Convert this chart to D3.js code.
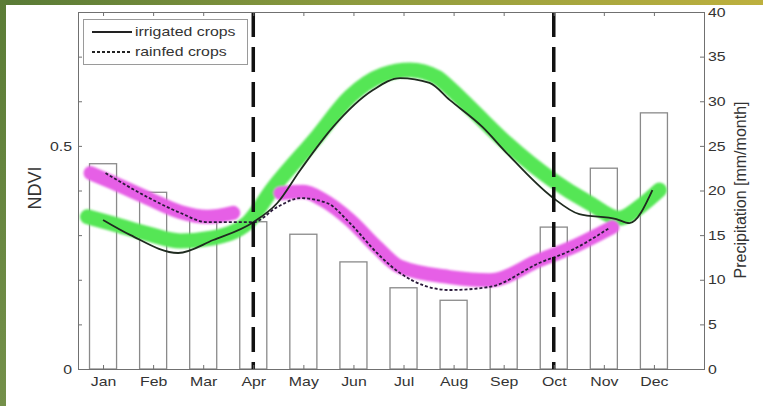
<!DOCTYPE html>
<html>
<head>
<meta charset="utf-8">
<script src="https://cdn.jsdelivr.net/npm/d3@7"></script>
<style>
  body { margin: 0; background: #fff; }
  svg { display: block; }
</style>
</head>
<body>
<svg id="chart" width="763" height="406"></svg>
<script>
// ---- data ----
const months = ["Jan", "Feb", "Mar", "Apr", "May", "Jun", "Jul", "Aug", "Sep", "Oct", "Nov", "Dec"];
const monthPos = [1, 2, 3, 4, 5, 6, 7, 8, 9, 10, 11, 12];
// monthly precipitation [mm/month]
const precip = [23, 19.8, 17.1, 16.5, 15.1, 12, 9.1, 7.7, 10.2, 15.9, 22.5, 28.7];

// irrigated crops NDVI profile (time in fractional months)
const irrigatedT = [1.0, 1.55, 2.5, 3.2, 4.0, 4.48, 4.94, 5.59, 6.39, 6.93, 7.52, 7.92, 8.58, 9.06, 9.97, 10.51, 11.25, 11.51, 11.97];
const irrigatedNdvi = [0.334, 0.300, 0.260, 0.289, 0.329, 0.372, 0.446, 0.542, 0.625, 0.652, 0.641, 0.603, 0.542, 0.484, 0.385, 0.347, 0.336, 0.327, 0.401];

// rainfed crops NDVI profile
const rainfedT = [1.05, 1.89, 2.54, 3.08, 3.54, 4.0, 4.48, 4.94, 5.47, 5.93, 6.47, 6.93, 7.92, 8.72, 9.72, 10.37, 11.11];
const rainfedNdvi = [0.439, 0.385, 0.350, 0.329, 0.329, 0.329, 0.363, 0.383, 0.372, 0.327, 0.260, 0.215, 0.177, 0.184, 0.238, 0.267, 0.316];

// reference envelope for irrigated crops (green band)
const irrigatedBandT = [0.69, 1.21, 1.89, 2.54, 3.20, 3.88, 4.40, 5.27, 5.93, 6.59, 7.13, 7.66, 7.92, 8.38, 9.06, 9.97, 10.71, 11.31, 11.71, 12.11];
const irrigatedBandNdvi = [0.341, 0.325, 0.303, 0.287, 0.294, 0.327, 0.406, 0.520, 0.610, 0.659, 0.670, 0.654, 0.630, 0.580, 0.506, 0.424, 0.372, 0.338, 0.363, 0.401];

// reference envelope for rainfed crops (magenta band), two seasons
const rainfedBandT1 = [0.75, 1.21, 1.89, 2.54, 3.08, 3.60];
const rainfedBandNdvi1 = [0.439, 0.417, 0.383, 0.352, 0.341, 0.350];
const rainfedBandT2 = [4.54, 5.0, 5.39, 5.93, 6.47, 6.93, 7.92, 8.72, 9.72, 10.37, 11.17];
const rainfedBandNdvi2 = [0.394, 0.397, 0.379, 0.334, 0.273, 0.229, 0.206, 0.199, 0.244, 0.273, 0.318];

// season boundaries (months)
const seasonMarks = [4, 10];

// axis ticks
const ndviTicks = [0, 0.1, 0.2, 0.3, 0.4, 0.5, 0.6, 0.7, 0.8];
const ndviTickLabels = ["0", "", "", "", "", "0.5", "", "", ""];
const precipTicks = [0, 5, 10, 15, 20, 25, 30, 35, 40];

const legendLabels = ["irrigated crops", "rainfed crops"];

// ---- layout ----
const W = 763, H = 406;
const plot = { left: 78, right: 704, top: 12, bottom: 369 };
const FONT = "'Liberation Sans', Arial, Helvetica, sans-serif";
const SX = 1.22;           // horizontal stretch of the label glyphs
const AXIS_COLOR = "#707070";
const TEXT_COLOR = "#333";

const svg = d3.select("#chart");

const x = d3.scaleLinear().domain([0.5, 13]).range([plot.left, plot.right]);
const yN = d3.scaleLinear().domain([0, 0.8]).range([plot.bottom, plot.top]);
const yP = d3.scaleLinear().domain([0, 40]).range([plot.bottom, plot.top]);

const defs = svg.append("defs");
const topGrad = defs.append("linearGradient").attr("id", "topGrad");
topGrad.append("stop").attr("offset", "0%").attr("stop-color", "#587a36");
topGrad.append("stop").attr("offset", "45%").attr("stop-color", "#8c9a3e");
topGrad.append("stop").attr("offset", "100%").attr("stop-color", "#bdb03e");
const leftGrad = defs.append("linearGradient").attr("id", "leftGrad")
  .attr("x1", 0).attr("x2", 0).attr("y1", 0).attr("y2", 1);
leftGrad.append("stop").attr("offset", "0%").attr("stop-color", "#5b7c36");
leftGrad.append("stop").attr("offset", "100%").attr("stop-color", "#74904a");
defs.append("filter").attr("id", "soft")
  .attr("x", "-5%").attr("y", "-5%").attr("width", "110%").attr("height", "110%")
  .append("feGaussianBlur").attr("stdDeviation", 0.9);

// page background with slide border
svg.append("rect").attr("width", W).attr("height", H).attr("fill", "#fff");
svg.append("rect").attr("x", 0).attr("y", 0).attr("width", W).attr("height", 5).attr("fill", "url(#topGrad)");
svg.append("rect").attr("x", 0).attr("y", 0).attr("width", 6).attr("height", H).attr("fill", "url(#leftGrad)");

// ---- precipitation bars ----
const barHalf = 0.27;
svg.append("g").selectAll("rect")
  .data(precip)
  .join("rect")
  .attr("x", (d, i) => x(monthPos[i] - barHalf))
  .attr("width", (d, i) => x(monthPos[i] + barHalf) - x(monthPos[i] - barHalf))
  .attr("y", d => yP(d))
  .attr("height", d => yP(0) - yP(d))
  .attr("fill", "#fff")
  .attr("stroke", "#8a8a8a")
  .attr("stroke-width", 1.3);

// ---- reference bands ----
const pts = (t, v) => t.map((ti, i) => [ti, v[i]]);
const line = d3.line().x(d => x(d[0])).y(d => yN(d[1])).curve(d3.curveMonotoneX);

const bands = svg.append("g").attr("filter", "url(#soft)");
bands.append("path")
  .attr("d", line(pts(irrigatedBandT, irrigatedBandNdvi)))
  .attr("fill", "none").attr("stroke", "#55e655").attr("stroke-width", 15)
  .attr("stroke-linecap", "round").attr("stroke-linejoin", "round");
[[rainfedBandT1, rainfedBandNdvi1], [rainfedBandT2, rainfedBandNdvi2]].forEach(([t, v]) => {
  bands.append("path")
    .attr("d", line(pts(t, v)))
    .attr("fill", "none").attr("stroke", "#e65ee6").attr("stroke-width", 14)
    .attr("stroke-linecap", "round").attr("stroke-linejoin", "round");
});

// ---- NDVI profiles ----
svg.append("path")
  .attr("d", line(pts(irrigatedT, irrigatedNdvi)))
  .attr("fill", "none").attr("stroke", "#1f2a1f").attr("stroke-width", 1.8);
svg.append("path")
  .attr("d", line(pts(rainfedT, rainfedNdvi)))
  .attr("fill", "none").attr("stroke", "#2a1a3a").attr("stroke-width", 1.8)
  .attr("stroke-dasharray", "3,2");

// ---- season boundaries ----
svg.append("g").selectAll("line")
  .data(seasonMarks)
  .join("line")
  .attr("x1", d => x(d)).attr("x2", d => x(d))
  .attr("y1", plot.top).attr("y2", plot.bottom)
  .attr("stroke", "#111").attr("stroke-width", 3.5)
  .attr("stroke-dasharray", "25,10");

// ---- axes ----
function styleAxis(g) {
  g.select(".domain").remove();
  g.selectAll(".tick line").attr("stroke", AXIS_COLOR);
  g.selectAll(".tick text")
    .attr("fill", TEXT_COLOR)
    .style("font-family", FONT)
    .style("font-size", "13px");
}

const gLeft = svg.append("g").attr("transform", `translate(${plot.left},0)`)
  .call(d3.axisLeft(yN).tickValues(ndviTicks)
    .tickFormat((d, i) => ndviTickLabels[i])
    .tickSizeInner(-4).tickSizeOuter(0).tickPadding(6))
  .call(styleAxis);
gLeft.selectAll(".tick text").attr("x", -6 / SX).attr("transform", `scale(${SX},1)`);

const gRight = svg.append("g").attr("transform", `translate(${plot.right},0)`)
  .call(d3.axisRight(yP).tickValues(precipTicks).tickFormat(d3.format("d"))
    .tickSizeInner(-4).tickSizeOuter(0).tickPadding(4))
  .call(styleAxis);
gRight.selectAll(".tick text").attr("x", 4 / SX).attr("transform", `scale(${SX},1)`);

const gBottom = svg.append("g").attr("transform", `translate(0,${plot.bottom})`)
  .call(d3.axisBottom(x).tickValues(monthPos).tickFormat((d, i) => months[i])
    .tickSizeInner(-4).tickSizeOuter(0).tickPadding(8))
  .call(styleAxis);
gBottom.selectAll(".tick").each(function () {
  const t = d3.select(this);
  t.select("text").attr("transform", `scale(${SX},1)`);
});

svg.append("g").attr("transform", `translate(0,${plot.top})`)
  .call(d3.axisTop(x).tickValues(monthPos).tickFormat("")
    .tickSizeInner(-4).tickSizeOuter(0))
  .call(styleAxis);

// axes box
svg.append("rect")
  .attr("x", plot.left + 0.5).attr("y", plot.top + 0.5)
  .attr("width", plot.right - plot.left).attr("height", plot.bottom - plot.top)
  .attr("fill", "none").attr("stroke", AXIS_COLOR).attr("stroke-width", 1);

// axis titles
svg.append("text")
  .attr("transform", "translate(35,188) rotate(-90)")
  .attr("text-anchor", "middle").attr("dominant-baseline", "central")
  .attr("fill", TEXT_COLOR)
  .style("font-family", FONT).style("font-size", "18px")
  .text("NDVI");
svg.append("text")
  .attr("transform", "translate(740,190) rotate(-90)")
  .attr("text-anchor", "middle").attr("dominant-baseline", "central")
  .attr("fill", TEXT_COLOR)
  .style("font-family", FONT).style("font-size", "16px")
  .text("Precipitation [mm/month]");

// ---- legend ----
const legend = svg.append("g");
legend.append("rect")
  .attr("x", 83.5).attr("y", 19.5).attr("width", 164).attr("height", 45)
  .attr("fill", "#fff").attr("stroke", "#9a9a9a").attr("stroke-width", 1);
const legendRows = [
  { label: legendLabels[0], dash: null, y: 32 },
  { label: legendLabels[1], dash: "3,2", y: 52 }
];
legendRows.forEach(r => {
  legend.append("line")
    .attr("x1", 92).attr("x2", 132).attr("y1", r.y).attr("y2", r.y)
    .attr("stroke", "#222").attr("stroke-width", 1.8)
    .attr("stroke-dasharray", r.dash);
  legend.append("text")
    .attr("transform", `translate(135,${r.y}) scale(${SX},1)`)
    .attr("dominant-baseline", "central")
    .attr("fill", TEXT_COLOR)
    .style("font-family", FONT).style("font-size", "13px")
    .text(r.label);
});
</script>
</body>
</html>
